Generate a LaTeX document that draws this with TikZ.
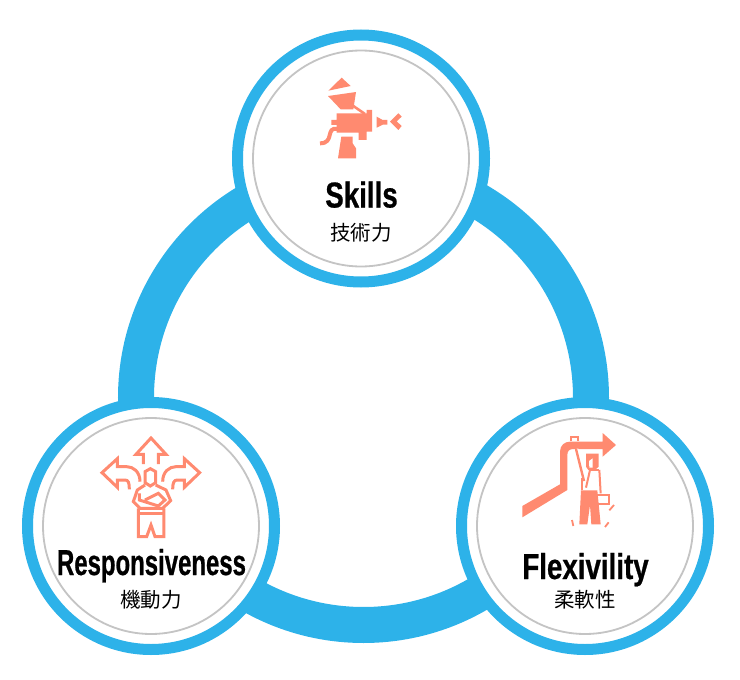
\documentclass[tikz,border=0pt]{standalone}
\usepackage{fontspec}
\newfontfamily\titlefont[FakeStretch=0.665,FakeBold=0.6]{Liberation Sans Bold}
\newfontfamily\widetitlefont[FakeStretch=0.77,FakeBold=0.6]{Liberation Sans Bold}
\newfontfamily\cjkfont{Noto Sans CJK JP}
\definecolor{ringblue}{HTML}{2DB2E9}
\definecolor{iconred}{HTML}{FF8A70}
\definecolor{ringgray}{HTML}{C4C4C4}
\tikzset{
outerdisc/.style={draw=ringblue, fill=white, circle, line width=11pt, inner sep=0pt, minimum size=247pt},
innerdisc/.style={draw=ringgray, circle, line width=1.8pt, inner sep=0pt, minimum size=216pt},
titletext/.style={font=\titlefont\fontsize{36}{38}\selectfont, inner sep=0pt, text=black, anchor=base},
widetitletext/.style={font=\widetitlefont\fontsize{36}{38}\selectfont, inner sep=0pt, text=black, anchor=base},
subtext/.style={font=\cjkfont\fontsize{20.5}{22}\selectfont, inner sep=0pt, text=black},
iconfill/.style={fill=iconred, draw=none},
iconline/.style={draw=iconred, line width=3pt, line join=miter, fill=none},
}
\begin{document}
\begin{tikzpicture}[x=1pt,y=-1pt]
\useasboundingbox (0,0) rectangle (740,680);
\coordinate (ringc) at (363.5,397.5);
\draw[ringblue, line width=36pt] (ringc) circle (227.5);
% the three discs
\node (skills) at (361,158.5) [outerdisc] {};
\node (resp) at (151,526) [outerdisc] {};
\node (flex) at (585,526) [outerdisc] {};
\node (skillsin) at (skills) [innerdisc] {};
\node (respin) at (resp) [innerdisc] {};
\node (flexin) at (flex) [innerdisc] {};
% labels
\node (skillstitle) at (361.5,207.5) [widetitletext] {Skills};
\node (skillssub) at (361,233) [subtext] {技術力};
\node (resptitle) at (151.5,575) [titletext] {Responsiveness};
\node (respsub) at (151,600) [subtext] {機動力};
\node (flextitle) at (585.5,579) [widetitletext] {Flexivility};
\node (flexsub) at (585,600) [subtext] {柔軟性};
% spray gun
\begin{scope}[shift={(300,60)},scale=1/3]
\fill[iconfill] (85,92) -- (125,53) -- (152,78) -- cycle;
\fill[iconfill] (84,108) -- (168,96) -- (160,148) -- (122,148) -- cycle;
\draw[iconred, line width=2.6pt] (160,138) -- (195,162);
\fill[iconfill] (110,160) -- (200,160) -- (200,150) -- (216,150) -- (216,215) -- (200,215) -- (200,240) -- (176,240) -- (176,218) -- (110,218) -- (110,195) -- (94,195) -- (94,180) -- (110,180) -- cycle;
\draw[iconred, line width=4pt] (112,207) .. controls (75,200) and (105,250) .. (60,250);
\fill[iconfill] (124,230) -- (158,230) -- (158,250) -- (168,265) -- (168,295) -- (114,295) -- cycle;
\fill[iconfill] (230,170) -- (248,180) -- (262,180) -- (262,194) -- (248,194) -- (230,203) -- cycle;
\fill[iconfill] (295,160) -- (305,170) -- (290,184) -- (305,198) -- (295,210) -- (270,185) -- cycle;
\end{scope}
% man with three arrows
\begin{scope}[shift={(90,430)},scale=1/3]
\draw[iconline] (160,102) -- (160,73) -- (138,73) -- (183,24) -- (228,73) -- (205,73) -- (205,102);
\draw[iconline] (150,155) .. controls (150,125) and (130,110) .. (110,110) -- (82,110) -- (82,86) -- (36,128) -- (82,172) -- (82,150) -- (105,150) .. controls (115,150) and (118,158) .. (118,178);
\draw[iconline] (218,155) .. controls (218,125) and (238,110) .. (258,110) -- (283,110) -- (283,86) -- (329,128) -- (283,172) -- (283,150) -- (262,150) .. controls (252,150) and (248,158) .. (248,178);
\draw[iconline] (165,158) -- (165,125) -- (181,116) -- (197,125) -- (197,158) -- (181,168) -- cycle;
\draw[iconline] (165,165) -- (142,180) -- (130,215) -- (150,235) -- (218,235) -- (242,212) -- (228,180) -- (197,165);
\draw[iconline] (148,190) -- (148,210) -- (205,228) -- (225,210) -- (205,190) -- (165,210);
\draw[iconline] (145,250) -- (222,250);
\draw[iconline] (145,235) -- (145,320) -- (170,320) -- (183,285) -- (195,320) -- (222,320) -- (222,235);
\end{scope}
% bent arrow with man
\begin{scope}[shift={(510,425)},scale=1/3]
\fill[iconfill] (37,243) -- (150,178) -- (150,80) .. controls (150,60) and (165,50) .. (180,50) -- (278,50) -- (278,24) -- (318,60) -- (278,95) -- (278,72) -- (190,72) .. controls (178,72) and (172,78) .. (172,90) -- (172,195) -- (37,277) -- cycle;
\draw[iconline, line width=2pt] (183,48) -- (183,36) -- (204,36) -- (204,48);
\draw[white, line width=4.5pt] (198,72) -- (222,168);
\draw[iconred, line width=2.4pt] (198,72) -- (222,168);
\fill[iconfill] (228,86) -- (266,86) -- (266,125) -- (255,135) -- (235,135) -- (228,125) -- cycle;
\fill[white] (237,108) -- (248,100) -- (248,128) -- (238,128) -- cycle;
\draw[iconred, line width=2pt] (240,135) -- (228,188);
\draw[iconred, line width=2pt] (268,135) -- (272,205);
\draw[iconred, line width=2pt] (240,135) -- (268,135);
\draw[iconred, line width=2pt] (215,196) -- (215,160);
\fill[iconfill] (213,196) -- (262,196) -- (272,298) -- (244,298) -- (240,240) -- (232,298) -- (208,298) -- cycle;
\draw[iconred, line width=2pt] (262,210) -- (298,210) -- (298,238) -- (262,238) -- cycle;
\draw[iconred, line width=1.8pt] (186,285) -- (190,303);
\draw[iconred, line width=1.8pt] (296,292) -- (285,306);
\draw[iconred, line width=1.8pt] (312,240) -- (298,256);
\end{scope}
\end{tikzpicture}
\end{document}
